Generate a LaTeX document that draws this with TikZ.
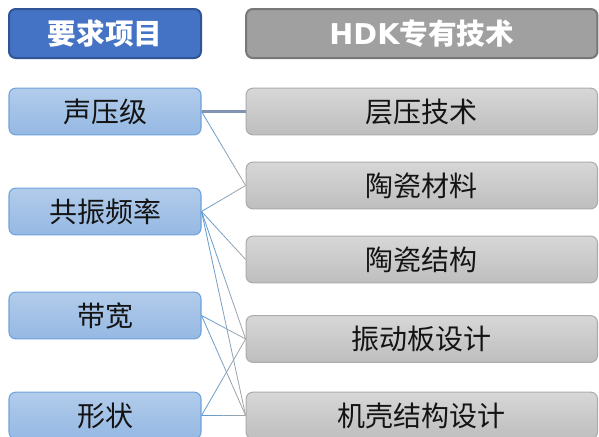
\documentclass[tikz,border=0pt]{standalone}
\usepackage{fontspec}
\newfontfamily\cjk{Noto Sans CJK SC}
\newfontfamily\latb{DejaVu Sans}
\usetikzlibrary{calc}

\definecolor{hdrblue}{RGB}{68,114,196}
\definecolor{hdrblueedge}{RGB}{47,85,151}
\definecolor{hdrgray}{RGB}{160,160,160}
\definecolor{hdrgrayedge}{RGB}{120,120,120}
\definecolor{reqtop}{RGB}{178,204,235}
\definecolor{reqbot}{RGB}{149,184,227}
\definecolor{reqedge}{RGB}{111,163,219}
\definecolor{tectop}{RGB}{215,215,215}
\definecolor{tecbot}{RGB}{190,190,190}
\definecolor{tecedge}{RGB}{172,172,172}
\definecolor{linkblue}{RGB}{91,155,213}
\definecolor{linkgray}{RGB}{165,165,165}
\definecolor{linkmid}{RGB}{128,148,178}
\definecolor{txt}{RGB}{20,20,20}

% connector fading from blue (left) to gray (right)
\newcommand\link[3][0.6pt]{%
  \foreach \i in {0,...,9}{
    \pgfmathtruncatemacro\mix{100-\i*11}
    \draw[line width=#1, linkblue!\mix!linkgray]
      ($(#2.east)!\i/10!(#3.west)$) -- ($(#2.east)!\i/10+0.1!(#3.west)$);
  }}

\begin{document}
\begin{tikzpicture}[x=0.75pt,y=-0.75pt,
  hdr/.style={rounded corners=5pt, line width=1.5pt, minimum height=36.75pt, text=white, font=\cjk\bfseries\fontsize{21.5}{25}\selectfont},
  req/.style={rounded corners=5pt, draw=reqedge, line width=0.8pt, top color=reqtop, bottom color=reqbot, minimum width=144pt, minimum height=35pt, text=txt, font=\cjk\fontsize{21}{25}\selectfont},
  tec/.style={rounded corners=5pt, draw=tecedge, line width=0.8pt, top color=tectop, bottom color=tecbot, minimum width=263.5pt, minimum height=35pt, text=txt, font=\cjk\fontsize{21}{25}\selectfont}]
\clip (0,0) rectangle (599,436);
\fill[white] (0,0) rectangle (599,436);

\node[hdr, fill=hdrblue, draw=hdrblueedge, minimum width=144pt] (hReq) at (105,33.5) {要求项目};
\node[hdr, fill=hdrgray, draw=hdrgrayedge, minimum width=263.5pt] (hTec) at (421.8,33.5) {{\latb\bfseries HDK}专有技术};

\node[req] (rA) at (105,111.5) {声压级};
\node[req] (rB) at (105,211.5) {共振频率};
\node[req] (rC) at (105,315.5) {带宽};
\node[req] (rD) at (105,415.5) {形状};

\node[tec] (tA) at (421.8,111.5) {层压技术};
\node[tec] (tB) at (421.8,185.5) {陶瓷材料};
\node[tec] (tC) at (421.8,259.5) {陶瓷结构};
\node[tec] (tD) at (421.8,339) {振动板设计};
\node[tec] (tE) at (421.8,415.5) {机壳结构设计};

\draw[line width=1.6pt, linkmid] (rA) -- (tA);
\link{rA}{tB}
\link{rB}{tB}
\link{rB}{tC}
\link{rB}{tD}
\link{rB}{tE}
\link{rC}{tD}
\link{rC}{tE}
\link{rD}{tD}
\link{rD}{tE}

\end{tikzpicture}
\end{document}
